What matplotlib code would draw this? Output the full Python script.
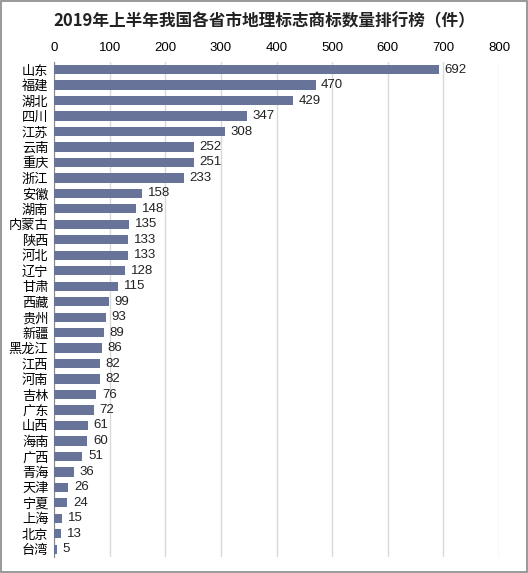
import matplotlib
matplotlib.use('Agg')
import matplotlib.pyplot as plt
from matplotlib.patches import Rectangle

plt.rcParams['font.family'] = ['Noto Sans CJK SC', 'DejaVu Sans']

# === DATA ===
provinces = ['山东', '福建', '湖北', '四川', '江苏', '云南', '重庆', '浙江', '安徽', '湖南',
             '内蒙古', '陕西', '河北', '辽宁', '甘肃', '西藏', '贵州', '新疆', '黑龙江', '江西',
             '河南', '吉林', '广东', '山西', '海南', '广西', '青海', '天津', '宁夏', '上海',
             '北京', '台湾']
counts = [692, 470, 429, 347, 308, 252, 251, 233, 158, 148,
          135, 133, 133, 128, 115, 99, 93, 89, 86, 82,
          82, 76, 72, 61, 60, 51, 36, 26, 24, 15,
          13, 5]
x_ticks = [0, 100, 200, 300, 400, 500, 600, 700, 800]

BAR_COLOR = '#68739A'

# === PLOT ===
fig = plt.figure(figsize=(5.28, 5.73), dpi=100)
ax = fig.add_axes([0.1023, 0.028, 0.843, 0.864])

y = list(range(len(provinces)))
ax.barh(y, counts, height=0.6, color=BAR_COLOR, zorder=3)
for yi, v in zip(y, counts):
    ax.text(v + 10, yi, str(v), va='center', ha='left', fontsize=9.5,
            family='Liberation Sans', color='#222222')

ax.set_ylim(len(provinces) - 0.5, -0.5)
ax.set_xlim(0, 800)
ax.set_xticks(x_ticks)
ax.xaxis.tick_top()
ax.tick_params(axis='x', length=0, labelsize=9.5, pad=6)
ax.tick_params(axis='y', length=0, labelsize=9.5, pad=4)
for lbl in ax.get_xticklabels():
    lbl.set_family('Liberation Sans')
ax.set_yticks(y)
ax.set_yticklabels(provinces)
ax.grid(axis='x', color='#d9d9d9', linewidth=1, zorder=0)
for s in ['top', 'right', 'bottom']:
    ax.spines[s].set_visible(False)
ax.spines['left'].set_color('#888888')

fig.text(0.5, 0.963, '2019年上半年我国各省市地理标志商标数量排行榜（件）',
         ha='center', va='center', fontsize=12, fontweight='bold', color='#222222')

# border around figure
fig.patches.append(Rectangle((0.001, 0.001), 0.997, 0.997, transform=fig.transFigure,
                             fill=False, edgecolor='#888888', linewidth=1.2))

fig.savefig('out.png', dpi=100)
